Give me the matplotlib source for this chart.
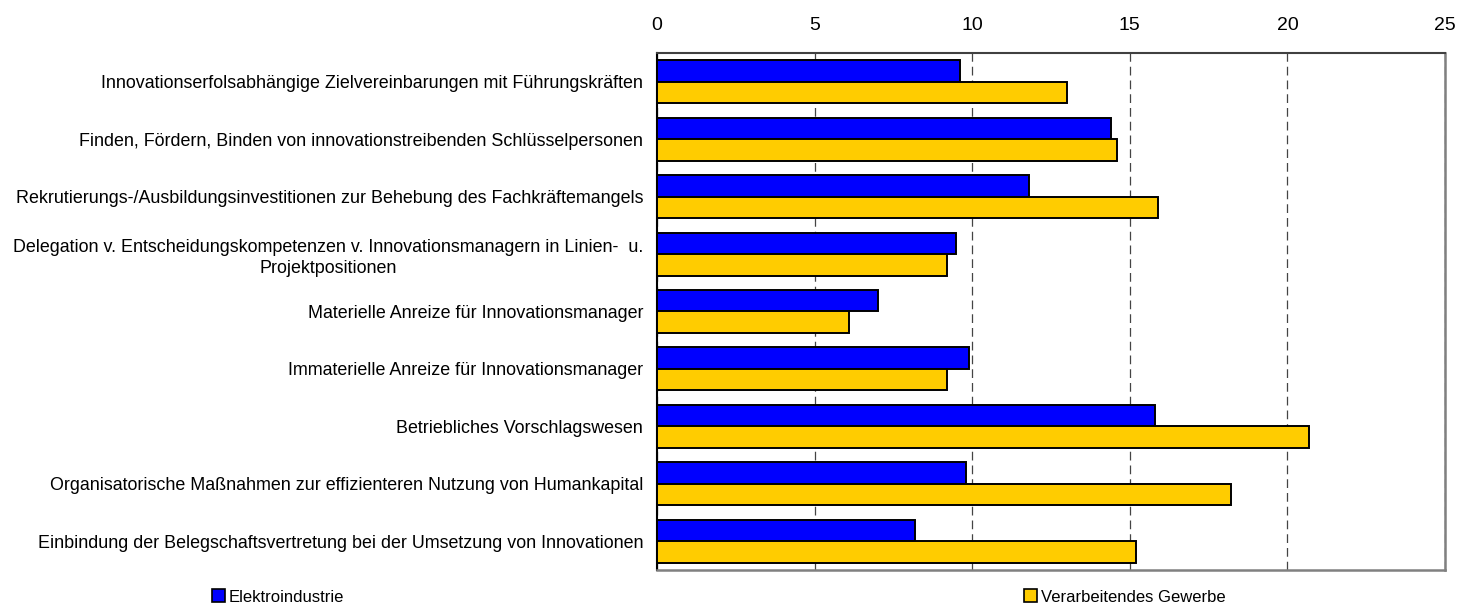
import numpy as np
import matplotlib.pyplot as plt
from matplotlib.patches import Patch

plt.rcParams['font.family'] = ['Liberation Sans', 'DejaVu Sans']

# Kategorien (von oben nach unten)
kategorien = [
    'Innovationserfolsabhängige Zielvereinbarungen mit Führungskräften',
    'Finden, Fördern, Binden von innovationstreibenden Schlüsselpersonen',
    'Rekrutierungs-/Ausbildungsinvestitionen zur Behebung des Fachkräftemangels',
    'Delegation v. Entscheidungskompetenzen v. Innovationsmanagern in Linien-  u.\nProjektpositionen',
    'Materielle Anreize für Innovationsmanager',
    'Immaterielle Anreize für Innovationsmanager',
    'Betriebliches Vorschlagswesen',
    'Organisatorische Maßnahmen zur effizienteren Nutzung von Humankapital',
    'Einbindung der Belegschaftsvertretung bei der Umsetzung von Innovationen',
]

elektro = [9.6, 14.4, 11.8, 9.5, 7.0, 9.9, 15.8, 9.8, 8.2]
verarbeitend = [13.0, 14.6, 15.9, 9.2, 6.1, 9.2, 20.7, 18.2, 15.2]

x_ticks = [0, 5, 10, 15, 20, 25]

fig = plt.figure(figsize=(14.72, 6.09), dpi=100)
ax = fig.add_axes([657 / 1472, 39 / 609, 788 / 1472, 517 / 609])

y = np.arange(len(kategorien))
h = 0.375
ax.barh(y - h / 2, elektro, height=h, color='#0000FF', edgecolor='black',
        linewidth=1.4, zorder=3, label='Elektroindustrie')
ax.barh(y + h / 2, verarbeitend, height=h, color='#FFCC00', edgecolor='black',
        linewidth=1.4, zorder=3, label='Verarbeitendes Gewerbe')

ax.set_xlim(0, 25)
ax.set_ylim(len(kategorien) - 0.5, -0.5)
ax.set_xticks(x_ticks)
ax.xaxis.tick_top()
ax.tick_params(axis='x', length=0, pad=14, labelsize=14)
ax.set_yticks(y)
ax.set_yticklabels(kategorien, fontsize=12.9, multialignment='center',
                   linespacing=1.3)
ax.tick_params(axis='y', length=0, pad=10)

ax.grid(axis='x', linestyle=(0, (7, 4)), color='#444444', linewidth=0.9, zorder=0)

ax.spines['left'].set_color('black')
ax.spines['left'].set_linewidth(1.5)
ax.spines['top'].set_color('#404040')
ax.spines['top'].set_linewidth(1.5)
ax.spines['right'].set_color('#808080')
ax.spines['right'].set_linewidth(1.8)
ax.spines['bottom'].set_color('#808080')
ax.spines['bottom'].set_linewidth(1.8)

# Legende
h1 = Patch(facecolor='#0000FF', edgecolor='black', linewidth=1.2)
h2 = Patch(facecolor='#FFCC00', edgecolor='black', linewidth=1.2)
kw = dict(frameon=False, fontsize=12, handlelength=0.8, handleheight=0.8,
          handletextpad=0.2, borderpad=0, borderaxespad=0)
fig.legend([h1], ['Elektroindustrie'], loc='center left',
           bbox_to_anchor=(212 / 1472, 12 / 609), **kw)
fig.legend([h2], ['Verarbeitendes Gewerbe'], loc='center left',
           bbox_to_anchor=(1024 / 1472, 12 / 609), **kw)

plt.savefig('out.png', dpi=100)
